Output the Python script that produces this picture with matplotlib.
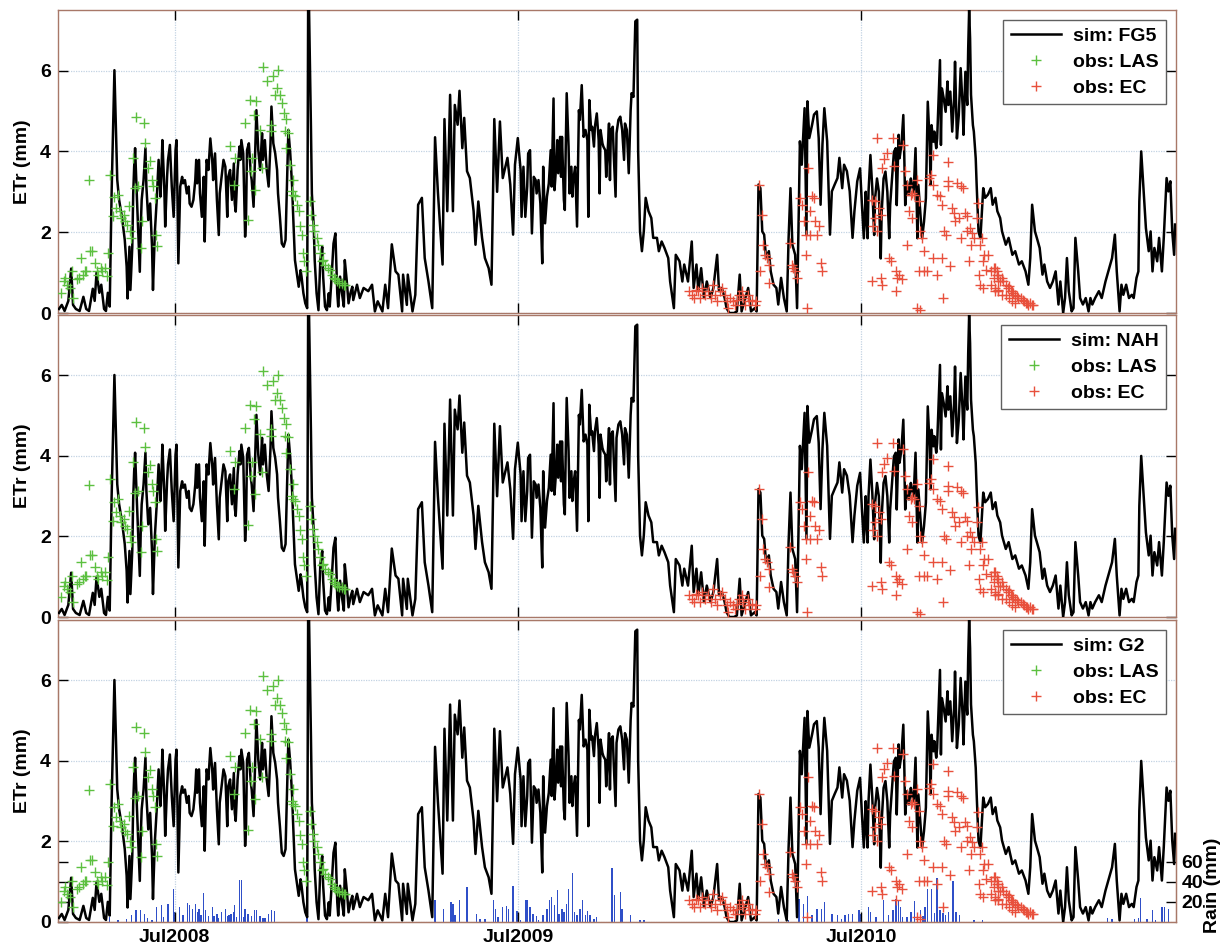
import numpy as np
import matplotlib
matplotlib.use("Agg")
import matplotlib.pyplot as plt
import matplotlib.dates as mdates
from matplotlib.lines import Line2D

# ---------------- data (days counted from start_date) ----------------
start_date = np.datetime64("2008-02-28")
n_days = 1189

# simulated ETr (mm): (day, value)
sim_pairs = [
    (1, 0.1), (4, 0.2), (7, 0.05), (11, 0.3), (14, 1.1), (16, 0.2), (19, 0.1), (23, 0.05), (27, 0.4),
    (30, 0.1), (33, 0.05), (37, 0.6), (39, 0.3), (41, 1.0), (44, 0.5), (46, 0.7), (49, 0.1), (51, 0.05),
    (53, 0.5),
    (55, 0.16), (57, 2.96), (60, 6.01), (62, 4.2), (63, 3.3), (65, 2.8), (68, 2.38), (71, 1.81), (73, 1.15),
    (74, 0.36), (76, 1.64), (77, 0.57), (79, 1.64), (80, 2.96), (81, 3.62), (82, 4.08), (84, 2.8), (86, 1.64),
    (87, 1.02), (88, 2.14), (89, 2.8), (91, 3.29), (93, 4.08), (94, 3.13), (96, 2.3), (98, 2.71), (100, 1.64),
    (101, 0.57), (103, 2.0), (105, 2.8), (107, 3.79), (109, 2.88), (110, 3.46), (111, 4.28), (113, 3.13),
    (114, 2.14), (116, 3.37), (117, 3.79), (119, 4.16), (121, 3.13), (123, 2.38), (125, 4.03), (126, 4.28),
    (127, 2.96), (128, 1.23), (130, 3.13), (132, 3.37), (133, 3.21), (135, 3.29), (137, 2.96), (139, 3.13),
    (140, 2.71), (142, 2.63), (144, 2.8), (146, 3.29), (147, 3.79), (148, 3.21), (150, 3.79), (151, 2.96),
    (153, 2.38), (155, 3.37), (156, 1.77), (158, 3.79), (160, 3.54), (162, 4.32), (164, 3.79), (165, 3.29),
    (167, 3.95), (169, 2.8), (171, 1.93), (172, 2.96), (174, 3.37), (176, 3.79), (178, 3.62), (180, 2.38),
    (181, 3.37),
    (183, 3.54), (185, 2.8), (187, 3.7), (188, 2.71), (189, 2.51), (191, 3.54), (193, 4.12), (194, 3.79),
    (195, 4.28), (197, 3.95), (199, 1.89), (200, 2.38), (201, 4.03), (203, 4.2), (205, 3.46), (206, 3.29),
    (208, 2.63), (210, 4.2), (211, 5.02), (213, 4.03), (215, 3.54), (217, 4.45), (218, 3.79), (220, 4.28),
    (222, 3.54), (224, 3.13), (226, 4.2), (227, 5.11), (229, 4.2), (231, 3.95), (233, 3.54), (234, 2.96),
    (236, 2.38), (238, 1.72), (240, 1.64), (242, 1.81), (243, 2.71), (245, 4.53), (247, 3.95), (249, 3.13),
    (250, 2.47), (252, 1.31), (254, 0.98), (256, 0.65), (258, 1.06), (259, 0.9), (261, 0.49), (263, 0.24),
    (265, 0.12), (266, 7.5), (267, 7.5), (269, 4.61), (270, 2.96), (272, 2.14), (273, 1.31), (275, 0.49),
    (277, 0.07), (279, 1.31), (281, 1.64), (282, 0.9), (284, 0.16), (286, 0.07), (288, 0.49), (289, 0.16),
    (291, 0.9), (293, 1.72), (295, 1.97), (297, 0.49), (298, 0.16), (300, 0.9), (302, 0.49), (304, 0.16),
    (305, 1.31), (307, 0.82), (309, 0.24), (311, 0.49), (313, 0.65), (314, 0.32),
    (318, 0.7), (321, 0.37), (325, 0.62), (330, 0.54), (334, 0.7), (337, 0.04), (340, 0.29), (345, 0.04),
    (348, 0.7), (351, 0.12), (355, 1.7), (359, 1.03), (362, 0.95), (366, 0.04), (367, 0.95), (371, 0.2),
    (372, 0.95), (377, 0.04), (380, 0.45), (383, 2.68), (387, 2.85), (390, 1.36), (394, 0.78), (398, 0.12),
    (401, 4.35), (404, 3.0), (409, 1.2), (411, 4.8), (414, 2.52), (417, 5.4), (420, 2.52), (422, 5.15),
    (425, 4.66), (427, 5.5), (430, 4.08), (432, 4.83), (435, 3.51), (438, 3.34), (442, 2.52), (444, 1.69),
    (447, 2.76), (451, 1.86), (454, 1.36), (458, 1.11), (461, 0.7), (464, 4.8), (467, 3.0), (470, 4.74),
    (473, 3.34), (478, 3.84), (481, 3.18), (484, 1.94), (486, 3.67), (489, 4.33),
    (492, 3.54), (493, 2.38), (495, 3.62), (497, 2.38), (499, 3.13), (500, 3.95), (502, 4.03), (504, 1.97),
    (506, 3.37), (508, 3.29), (509, 2.96), (511, 3.29), (513, 2.71), (515, 1.23), (516, 3.62), (518, 2.22),
    (520, 2.88), (522, 3.21), (524, 4.03), (525, 3.13), (527, 5.31), (528, 3.04), (530, 3.7), (531, 4.28),
    (532, 3.46), (534, 4.36), (535, 3.37), (536, 4.36), (538, 2.8), (539, 2.55), (540, 4.12), (541, 5.44),
    (543, 4.12), (544, 2.96), (546, 3.62), (547, 2.88), (548, 3.29), (550, 3.62), (552, 2.14), (554, 5.02),
    (555, 4.78), (557, 5.64), (559, 4.36), (561, 4.53), (563, 4.28), (564, 2.38), (565, 5.27), (567, 4.53),
    (568, 4.61), (570, 4.12), (571, 4.61), (573, 4.94), (575, 4.28), (576, 2.96), (577, 4.53), (579, 4.2),
    (580, 4.12), (582, 4.03), (583, 3.37), (585, 4.2), (586, 4.69), (587, 3.29), (588, 4.53), (590, 4.61),
    (591, 3.95), (593, 2.88), (594, 4.45), (596, 4.78), (598, 4.86), (600, 4.53), (602, 3.79), (603, 4.69),
    (605, 4.53), (607, 3.46), (609, 5.02), (610, 5.44), (612, 5.35), (614, 7.22), (616, 7.26), (617, 4.0),
    (619, 2.02), (621, 1.53), (623, 2.02), (625, 2.85), (628, 2.52), (631, 2.35), (633, 1.86), (637, 1.86),
    (639, 1.53), (642, 1.77), (645, 1.61), (649, 1.36), (651, 0.78), (655, 0.12), (657, 1.44), (661, 1.28),
    (664, 0.78), (666, 1.2), (670, 0.78), (674, 1.77), (676, 0.62), (679, 1.2), (681, 0.54), (684, 1.11),
    (687, 0.37), (690, 0.78), (694, 0.37), (697, 0.62), (701, 1.44), (703, 0.54), (706, 0.62), (709, 0.37),
    (711, 0.12), (714, 0.0), (719, 0.0), (722, 0.04), (725, 0.95), (727, 0.04), (731, 0.37), (734, 0.62),
    (737, 0.04), (741, 0.12), (743, 0.04), (745, 3.18), (747, 3.09), (749, 2.02), (751, 1.94), (753, 1.36),
    (756, 1.53), (758, 1.03), (761, 0.7), (764, 0.62), (766, 0.21), (769, 0.87), (772, 0.37), (775, 0.04),
    (777, 1.86), (779, 3.09), (781, 1.69), (784, 1.44), (786, 0.12), (788, 2.76), (789, 4.25), (791, 3.67),
    (794, 5.07), (796, 1.94), (797, 5.24), (799, 4.33), (802, 4.66), (804, 4.91), (807, 4.99), (809, 4.33),
    (811, 2.68), (813, 4.17), (815, 5.07), (818, 4.25), (821, 1.94), (823, 3.01), (826, 3.18), (829, 3.34),
    (831, 3.84), (834, 3.09), (836, 3.67), (839, 3.51), (842, 3.01), (845, 1.86), (847, 2.52), (850, 3.26),
    (853, 3.58), (855, 2.67), (857, 1.85), (859, 3.0), (860, 2.26), (861, 1.85), (862, 3.0), (864, 3.91),
    (866, 3.09), (868, 1.93), (869, 2.84), (871, 3.33), (873, 3.0), (875, 1.35), (876, 2.51), (878, 3.33),
    (880, 3.5), (882, 3.0), (884, 1.85), (885, 2.67), (887, 3.33), (889, 3.99), (891, 4.08), (892, 2.67),
    (894, 4.41), (895, 3.83), (897, 4.16), (899, 4.9), (900, 3.91), (901, 2.67), (903, 3.25), (905, 2.92),
    (907, 3.33), (908, 3.17), (910, 3.0), (912, 4.08), (914, 1.85), (915, 3.17), (917, 2.51), (919, 1.85),
    (921, 2.26), (923, 2.84), (924, 4.08), (925, 5.23), (927, 4.24), (928, 3.17), (929, 4.65), (931, 4.24),
    (932, 4.49), (934, 4.08), (935, 4.32), (937, 5.64), (938, 6.26), (939, 4.16), (940, 5.56), (942, 5.31),
    (944, 4.98), (946, 5.73), (947, 5.15), (949, 5.48), (951, 4.49), (953, 5.31), (954, 6.22), (956, 4.32),
    (958, 4.9), (960, 6.06), (962, 5.15), (963, 4.41), (965, 5.97), (967, 5.15), (968, 6.55), (969, 7.5),
    (970, 6.8), (971, 5.4), (973, 4.65), (974, 4.49), (976, 3.83), (977, 3.17), (979, 2.01), (981, 1.85),
    (984, 3.09), (986, 2.85), (989, 2.93), (992, 3.09), (994, 2.68), (997, 2.85), (999, 2.52), (1002, 2.35),
    (1004, 2.02), (1008, 1.69), (1011, 1.86), (1015, 1.44), (1018, 1.53), (1022, 1.2), (1025, 1.28),
    (1029, 1.03), (1032, 0.7), (1034, 1.36), (1036, 2.68), (1039, 2.02), (1041, 1.86), (1044, 1.61),
    (1047, 0.95), (1049, 1.2), (1052, 0.78), (1055, 0.62), (1058, 0.78), (1061, 1.03), (1064, 0.21),
    (1066, 0.78), (1069, 0.0), (1071, 0.37), (1073, 1.36), (1075, 0.54), (1078, 0.04), (1080, 0.12),
    (1082, 1.86), (1085, 1.03), (1087, 0.37), (1090, 0.21), (1093, 0.37), (1096, 0.04), (1098, 0.37),
    (1100, 0.21), (1103, 0.37), (1107, 0.54), (1110, 0.37), (1114, 0.78), (1118, 1.11), (1121, 1.36),
    (1124, 1.94), (1126, 1.03), (1129, 0.04), (1131, 0.7), (1133, 0.45), (1136, 0.7), (1139, 0.37),
    (1142, 0.45), (1144, 0.37), (1147, 0.87), (1149, 1.03), (1150, 2.76), (1152, 4.0), (1155, 2.85),
    (1157, 2.1), (1160, 1.53), (1162, 2.02), (1164, 1.03), (1166, 1.61), (1169, 1.28), (1171, 1.86),
    (1174, 1.03), (1176, 1.86), (1179, 3.34), (1181, 3.01), (1183, 3.26), (1185, 2.02), (1187, 1.44),
    (1188, 2.19),
]

las_day = [3, 6, 7, 10, 13, 15, 16, 20, 22, 24, 27, 29, 30, 34, 36, 39, 41, 43, 46, 47, 50, 52, 53, 33,
           55, 58, 60, 62, 64, 66, 67, 70, 71, 73, 75, 77, 78, 80, 82, 83, 85, 88, 89, 91, 93, 96, 98, 100,
           101, 103, 104, 105,
           183, 187, 188, 199, 202, 204, 205, 206, 208, 209, 211, 215, 217, 218, 222, 226, 227, 229, 231,
           233, 234, 236, 238, 240, 241, 242, 243, 245, 247, 249, 250, 250, 252, 254, 256, 257, 259, 261,
           262, 264, 268, 269, 271, 272, 275, 277, 279, 281, 282, 284, 287, 289, 291, 293, 295, 297, 299,
           302, 304, 305]
las_et = [0.5, 0.78, 0.87, 0.7, 0.62, 1.03, 0.37, 0.83, 0.87, 1.36, 0.95, 1.03, 1.03, 1.53, 1.53, 1.24,
          1.03, 0.95, 1.11, 1.03, 1.11, 0.91, 1.49, 3.28,
          3.42, 2.39, 2.86, 2.6, 2.93, 2.52, 2.35, 2.43, 2.27, 2.19, 2.64, 2.02, 1.86, 3.84, 3.09, 4.85,
          3.14, 1.61, 2.27, 4.7, 4.22, 3.59, 3.77, 3.3, 3.14, 2.85, 1.94, 1.65,
          4.13, 3.18, 3.84, 4.7, 2.29, 5.26, 3.51, 3.84, 4.91, 3.05, 5.24, 4.54, 3.59, 6.1, 5.75, 4.66,
          4.5, 5.86, 5.4, 5.57, 6.02, 5.4, 5.2, 4.95, 4.5, 4.79, 4.08, 4.46, 3.67, 3.01, 2.93, 3.3, 2.89,
          2.68, 2.52, 2.15, 1.94, 1.49, 1.28, 1.03, 2.76, 2.43, 2.19, 2.02, 1.86, 1.69, 1.49, 1.28, 1.32,
          1.2, 1.11, 1.07, 0.95, 0.87, 0.83, 0.78, 0.74, 0.74, 0.7, 0.7]

ec_day = [671, 674, 676, 679, 681, 683, 685, 688, 691, 694, 697, 699, 701, 704, 706, 709, 712, 713, 715,
          718, 720, 722, 724, 727, 729, 731, 734, 735, 738, 741, 742,
          745, 749, 750, 752, 754, 756, 747, 756,
          779, 781, 782, 784, 786, 789, 791, 793, 795, 797, 798, 800, 802, 804, 805, 807, 809, 811, 812,
          795, 800,
          866, 866, 867, 869, 869, 871, 871, 873, 875, 875, 876, 876, 878, 882, 884, 886, 888, 889, 891,
          891, 892, 894, 898, 899, 901, 903, 903, 905, 907, 908, 908, 910, 914, 914, 916, 916, 917, 917,
          919, 921, 921, 924, 926, 928, 931, 931, 931, 935, 935, 938, 940, 940, 941, 942, 944, 946, 946,
          947, 949, 951, 953, 954, 956, 958, 960, 960, 963, 965, 967, 967, 969, 970, 971, 972, 974, 977,
          978, 979, 981, 981, 983, 984, 984, 985, 987, 989, 992, 992, 995, 995, 997, 999, 1000, 1000,
          997, 997, 999, 1000, 1000, 1002, 1004, 1004, 1005, 1008, 1008, 1010, 1011, 1011, 1013, 1015,
          1015, 1016, 1018, 1018, 1020, 1021, 1024, 1026, 1027, 1029, 1031, 1032, 1034, 1036, 1037]
ec_et = [0.54, 0.45, 0.37, 0.58, 0.54, 0.37, 0.62, 0.45, 0.54, 0.37, 0.7, 0.45, 0.29, 0.54, 0.62, 0.45,
         0.29, 0.12, 0.37, 0.29, 0.21, 0.33, 0.45, 0.54, 0.37, 0.21, 0.45, 0.29, 0.33, 0.21, 0.29,
         3.18, 2.43, 1.69, 1.44, 1.36, 1.2, 1.03, 0.74,
         1.73, 1.2, 1.11, 1.03, 0.87, 2.85, 2.68, 2.27, 1.94, 0.12, 3.59, 2.52, 2.89, 2.85, 2.27, 1.94,
         2.15, 1.24, 1.03, 1.44, 1.94,
         2.8, 0.78, 2.15, 2.76, 2.35, 4.33, 2.02, 2.6, 2.43, 0.87, 3.59, 0.7, 3.8, 3.96, 1.36, 1.28, 4.33,
         3.63, 1.03, 0.54, 0.87, 0.95, 0.83, 4.17, 3.51, 3.18, 1.69, 2.52, 2.93, 2.97, 2.35, 2.93, 3.3,
         0.12, 2.76, 1.03, 2.02, 0.08, 1.86, 1.53, 1.03, 1.03, 3.34, 3.42, 3.92, 3.18, 1.36, 2.93, 0.95,
         2.89, 2.68, 1.36, 0.37, 2.02, 1.94, 3.75, 3.26, 3.14, 1.16, 2.6, 2.48, 2.27, 3.22, 2.35, 1.86,
         3.14, 3.09, 2.48, 2.39, 2.02, 1.28, 2.1, 1.69, 1.98, 1.86, 2.35, 2.72, 0.95, 1.69, 0.7, 1.86, 1.28,
         0.62, 1.44, 1.07, 1.44, 1.03, 0.7, 1.11, 0.87, 0.54, 0.95, 0.78, 0.58,
         1.11, 0.62, 1.03, 0.95, 0.54, 0.78, 0.87, 0.45, 0.78, 0.7, 0.45, 0.62, 0.66, 0.37, 0.54, 0.54,
         0.3, 0.5, 0.45, 0.25, 0.41, 0.37, 0.37, 0.33, 0.29, 0.25, 0.25, 0.21, 0.25, 0.2, 0.21]

rain_day = [55, 64, 73, 78, 83, 88, 92, 95, 100, 105, 110, 112, 117, 123, 124, 129, 133, 138, 140, 143,
            146, 149, 150, 152, 155, 157, 160, 164, 166, 169, 171, 174, 178, 180, 182, 184, 187, 188, 190,
            193, 195, 197, 199, 202, 206, 209, 211, 215, 218, 220, 224, 227, 230, 265,
            401, 410, 418, 420, 422, 427, 435, 445, 449, 454, 463, 465, 468, 473, 477, 479, 484, 488, 492,
            497, 499, 502, 505, 509, 511, 516, 520, 523, 525, 528, 531, 533, 536, 538, 541, 543, 547, 549,
            552, 555, 558, 561, 563, 566, 570, 573, 589, 592, 598, 600, 609, 619, 623,
            766, 777, 788, 793, 797, 802, 807, 812, 815, 823, 829, 833, 837, 841, 845, 852, 854, 862, 864,
            870, 878, 883, 888, 891, 892, 894, 896, 898, 903, 907, 908, 911, 914, 917, 920, 922, 925, 929,
            932, 935, 938, 941, 944, 947, 952, 955, 959, 974, 983,
            1116, 1121, 1145, 1149, 1151, 1158, 1164, 1167, 1174, 1177, 1181]
rain_mm = [5, 2, 3, 7, 12, 12, 8, 4, 2, 15, 17, 5, 18, 33, 10, 15, 7, 19, 17, 13, 18, 10, 13, 7, 29, 12,
           6, 15, 6, 8, 4, 10, 13, 6, 7, 8, 10, 17, 5, 42, 42, 5, 13, 8, 6, 12, 12, 6, 4, 4, 8, 12, 11, 11,
           22, 13, 20, 18, 7, 22, 35, 8, 3, 3, 22, 13, 5, 15, 16, 13, 36, 11, 2, 22, 22, 15, 8, 6, 2, 7, 13,
           22, 25, 17, 32, 8, 13, 10, 18, 33, 49, 10, 7, 13, 22, 7, 11, 7, 3, 5, 54, 27, 30, 13, 7, 2, 2,
           3, 2, 23, 18, 26, 7, 13, 13, 20, 8, 7, 3, 7, 8, 8, 12, 8, 15, 10, 5, 22, 7, 12, 23, 18, 21,
           15, 5, 5, 10, 5, 21, 8, 12, 6, 15, 33, 33, 9, 44, 12, 9, 7, 10, 41, 10, 7, 2, 2,
           4, 3, 3, 4, 24, 3, 12, 2, 15, 15, 13]

panel_names = ["sim: FG5", "sim: NAH", "sim: G2"]
et_ticks = [0, 2, 4, 6]
rain_ticks = [20, 40, 60]

# ---------------- styling ----------------
plt.rcParams["font.family"] = ["Liberation Sans", "DejaVu Sans"]
plt.rcParams["font.weight"] = "bold"
FS = 14
frame_col = "#a87868"
grid_col = "#c3d3e3"
las_col = "#5cc040"
ec_col = "#e8503c"
rain_col = "#2f4fc8"


def to_dates(days):
    return start_date + np.asarray(days).astype("timedelta64[D]")


sim_day = [p[0] for p in sim_pairs]
sim_et = [p[1] for p in sim_pairs]
sim_t = to_dates(sim_day)
las_t = to_dates(las_day)
ec_t = to_dates(ec_day)
rain_t = to_dates(rain_day)
x0 = start_date
x1 = start_date + np.timedelta64(n_days, "D")

W, H = 1226, 950
fig = plt.figure(figsize=(W / 100, H / 100), dpi=100)
left, right = 58 / W, 1176 / W
tops = [10, 315, 620]
bots = [313, 617, 922]

for i, name in enumerate(panel_names):
    ax = fig.add_axes([left, 1 - bots[i] / H, right - left, (bots[i] - tops[i]) / H])
    ax.plot(sim_t, sim_et, color="black", lw=1.8, zorder=4, label=name)
    ax.plot(las_t, las_et, ls="none", marker="+", ms=7, mew=1.0, color=las_col, zorder=5, label="obs: LAS")
    ax.plot(ec_t, ec_et, ls="none", marker="+", ms=7, mew=1.0, color=ec_col, zorder=5, label="obs: EC")
    ax.set_xlim(x0, x1)
    ax.set_ylim(0, 7.5)
    ax.set_yticks(et_ticks)
    ax.xaxis.set_major_locator(mdates.MonthLocator(bymonth=7))
    ax.xaxis.set_major_formatter(mdates.DateFormatter("%b%Y"))
    ax.grid(True, color=grid_col, lw=0.9, ls=(0, (1, 1)))
    ax.set_axisbelow(True)
    ax.tick_params(direction="in", length=7, width=1, top=True, right=True,
                   labelsize=FS, colors="black", pad=5)
    for lab in ax.get_xticklabels() + ax.get_yticklabels():
        lab.set_fontweight("bold")
    for sp in ax.spines.values():
        sp.set_color(frame_col)
        sp.set_linewidth(1.0)
    ax.set_ylabel("ETr (mm)", fontsize=FS, fontweight="bold")
    ax.yaxis.set_label_coords(-0.024, 0.5)
    if i < 2:
        ax.tick_params(labelbottom=False)
    handles = [Line2D([], [], color="black", lw=1.8),
               Line2D([], [], ls="none", marker="+", ms=7, mew=1.0, color=las_col),
               Line2D([], [], ls="none", marker="+", ms=7, mew=1.0, color=ec_col)]
    leg = ax.legend(handles, [name, "obs: LAS", "obs: EC"], loc="upper right",
                    prop={"weight": "bold", "size": FS}, fancybox=False, framealpha=1,
                    edgecolor="#606060", handlelength=2.6, labelspacing=0.42,
                    borderaxespad=0.5, handletextpad=0.6, borderpad=0.4)
    leg.get_frame().set_linewidth(1.0)
    leg.set_zorder(10)

    if i == 2:
        ax2 = ax.twinx()
        ax2.bar(rain_t, rain_mm, width=1.5, color=rain_col, edgecolor="none", zorder=2)
        ax2.set_ylim(0, 302)
        ax2.set_yticks(rain_ticks)
        ax2.tick_params(direction="in", length=7, width=1, labelsize=FS, left=True, right=True,
                        labelleft=False, labelright=True, pad=4)
        for lab in ax2.get_yticklabels():
            lab.set_fontweight("bold")
        for sp in ax2.spines.values():
            sp.set_color(frame_col)
        ax2.set_ylabel("Rain (mm)", fontsize=FS, fontweight="bold")
        ax2.yaxis.set_label_coords(1.025, 0.12)
        ax.set_zorder(ax2.get_zorder() + 1)
        ax.patch.set_visible(False)

fig.savefig("out.png", dpi=100)
